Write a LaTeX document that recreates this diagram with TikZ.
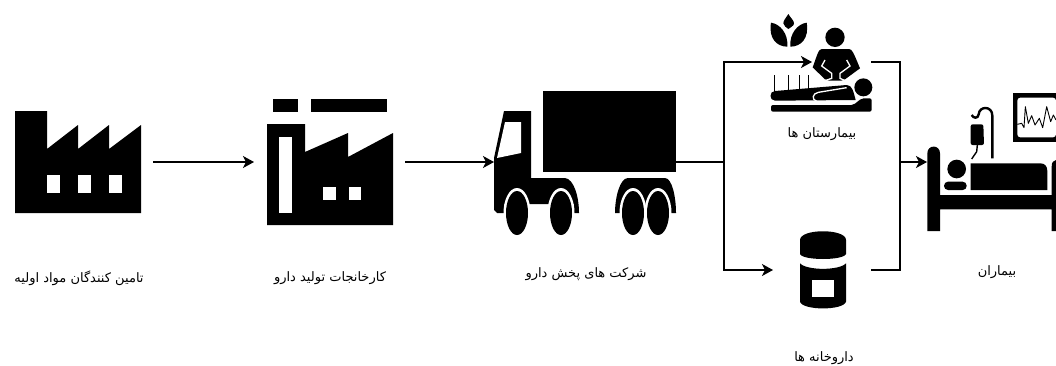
\documentclass[tikz,border=0pt]{standalone}
\usepackage{fontspec}
\usetikzlibrary{arrows.meta}
\TeXXeTstate=1
\newfontfamily\arabicfont[Script=Arabic]{DejaVu Sans}
\newcommand{\farsi}[1]{{\arabicfont\beginR #1\endR}}
\tikzset{
    iconbox/.style={inner sep=0pt, outer sep=0pt},
    caption/.style={inner sep=0pt, yshift=-1.5pt, font=\fontsize{13}{15}\selectfont},
    flow/.style={-{Stealth[length=11pt,width=12pt,inset=3pt]}, line width=1.2pt},
    plainline/.style={line width=1.2pt}
}
\begin{document}
\begin{tikzpicture}[x=1pt, y=-1pt]
    \useasboundingbox (0,0) rectangle (1056,365);

    % Raw material factory
    \fill (15,111) -- (47,111) -- (47,149) -- (78,125) -- (78,149) -- (109,125) -- (109,149) -- (141,125) -- (141,213) -- (15,213) -- cycle;
    \foreach \wx in {47,78,109} {
        \fill[white] (\wx,175) rectangle ++(13,18);
    }
    \node[iconbox, minimum width=126pt, minimum height=102pt] (supplier) at (78,162) {};
    \node[caption] (suppliertext) at (79,277) {\farsi{تامین کنندگان مواد اولیه}};

    % Drug plant
    \fill (273,99) rectangle (298,112);
    \fill (311,99) rectangle (387,112);
    \fill (267,124) -- (305,124) -- (305,152) -- (348,133) -- (348,157) -- (393,133) -- (393,225) -- (267,225) -- cycle;
    \fill[white] (279,137) rectangle (292,213);
    \fill[white] (323,187) rectangle (336,200);
    \fill[white] (349,187) rectangle (361,200);
    \node[iconbox, minimum width=126pt, minimum height=126pt] (plant) at (330,162) {};
    \node[caption] (planttext) at (330,277) {\farsi{کارخانجات تولید دارو}};

    % Truck
    \fill (543,91) rectangle (676,172);
    \fill (504,111) -- (531,111) -- (531,178) -- (565,178) .. controls (574,179) and (579,197) .. (579,213) -- (574,213) -- (574,204) -- (504,204) -- (504,213) -- (497,213) -- (494,210) -- (494,158) -- cycle;
    \fill (615,213) .. controls (615,197) and (620,178) .. (628,178) -- (665,178) .. controls (672,178) and (676,197) .. (676,213) -- cycle;
    \fill[white] (505,122) -- (521,122) -- (521,153) -- (497,158) -- cycle;
    \foreach \wx in {517,561,633,658} {
        \fill[white] (\wx,213) ellipse [x radius=13.5, y radius=25];
    }
    \foreach \wx in {517,561,633,658} {
        \fill (\wx,213) ellipse [x radius=11, y radius=22];
    }
    \node[iconbox, minimum width=182pt, minimum height=144pt] (truck) at (585,162) {};
    \node[caption] (trucktext) at (586,273) {\farsi{شرکت های پخش دارو}};

    % Hospital
    \begin{scope}[shift={(765,10)}, scale=1/3]
        \fill (70,12) .. controls (62,25) and (55,32) .. (55,40) .. controls (55,48) and (65,52) .. (70,57) .. controls (76,52) and (87,48) .. (87,40) .. controls (87,32) and (78,25) .. (70,12) -- cycle;
        \fill (18,38) .. controls (45,42) and (70,70) .. (67,110) .. controls (35,110) and (10,85) .. (18,38) -- cycle;
        \fill (125,38) .. controls (98,42) and (73,70) .. (76,110) .. controls (108,110) and (133,85) .. (125,38) -- cycle;
        \fill (210,82) circle [radius=29];
        \fill (170,117) -- (252,117) .. controls (262,117) and (266,130) .. (285,175) -- (240,208) -- (228,212) -- (192,212) -- (180,208) -- (143,172) .. controls (155,140) and (160,117) .. (170,117) -- cycle;
        \draw[white, line width=1.3pt] (180,150) -- (170,168) -- (200,190) -- (200,205) -- (180,212);
        \draw[white, line width=1.3pt] (245,150) -- (255,168) -- (225,190) -- (225,205) -- (240,212);
        \foreach \nx in {28,70,103,130} {
            \draw[line width=1.2pt] (\nx,195) -- (\nx,245);
        }
        \fill (30,243) -- (245,225) .. controls (262,225) and (265,245) .. (272,270) -- (30,272) .. controls (12,272) and (12,243) .. (30,243) -- cycle;
        \draw[white, line width=1.3pt] (245,233) -- (160,247) .. controls (143,250) and (138,268) .. (155,274);
        \fill (295,232) circle [radius=27];
        \fill[rounded corners=2pt] (18,285) -- (265,285) -- (290,265) -- (320,265) -- (320,305) -- (18,305) -- cycle;
    \end{scope}
    \node[iconbox, minimum width=102pt, minimum height=98pt] (hospital) at (820,62) {};
    \coordinate (hospitalin) at (812,62);
    \node[caption] (hospitaltext) at (822,133) {\farsi{بیمارستان ها}};

    % Pharmacy
    \begin{scope}[shift={(720,0)}, scale=1/3]
        \fill (240,720) .. controls (240,685) and (378,685) .. (378,720) -- (378,762) .. controls (370,782) and (248,782) .. (240,762) -- cycle;
        \fill (240,790) .. controls (260,812) and (358,812) .. (378,790) -- (378,905) .. controls (370,932) and (248,932) .. (240,905) -- cycle;
        \fill[white] (277,840) rectangle (342,892);
    \end{scope}
    \node[iconbox, minimum width=46pt, minimum height=76pt] (pharmacy) at (823,270) {};
    \node[caption] (pharmacytext) at (824,357) {\farsi{داروخانه ها}};

    % Patient bed
    \begin{scope}[shift={(920,85)}, scale=1/3]
        \fill (22,438) -- (22,205) .. controls (22,178) and (60,178) .. (60,205) -- (60,330) -- (395,330) -- (395,245) .. controls (395,232) and (400,226) .. (408,225) -- (408,438) -- (395,438) -- (395,373) -- (60,373) -- (60,438) -- cycle;
        \fill (110,252) circle [radius=28];
        \fill[rounded corners=4pt] (72,290) rectangle (140,315);
        \fill (152,235) -- (362,235) .. controls (375,235) and (382,245) .. (382,258) -- (382,315) -- (152,315) -- cycle;
        \fill (278,25) rectangle (408,170);
        \fill[white, rounded corners=3pt] (292,38) -- (408,38) -- (408,157) -- (292,157) -- cycle;
        \draw[line width=0.9pt, line join=round] (292,118) -- (305,115) -- (312,128) -- (316,65) -- (325,115) -- (335,92) -- (345,120) -- (358,100) -- (368,128) -- (380,65) -- (392,110) -- (400,90) -- (408,105);
        \fill[rounded corners=2pt] (152,118) -- (190,118) -- (192,180) -- (152,180) -- cycle;
        \draw[line width=1.4pt] (172,180) -- (170,200) -- (155,222);
        \draw[line width=2.4pt] (217,220) -- (217,92) .. controls (217,62) and (178,62) .. (176,88) .. controls (174,102) and (160,100) .. (155,90);
    \end{scope}
    \node[iconbox, minimum width=129pt, minimum height=137pt] (bed) at (991.5,162) {};
    \node[caption] (bedtext) at (997,271) {\farsi{بیماران}};

    % Connectors
    \coordinate (split) at (724,162);
    \coordinate (merge) at (900,162);
    \draw[flow, shorten <=12pt, shorten >=13pt] (supplier) -- (plant);
    \draw[flow, shorten <=12pt] (plant) -- (truck);
    \draw[line width=1.8pt] (truck) -- (split);
    \draw[flow] (split) |- (hospitalin);
    \draw[flow, shorten >=27pt] (split) |- (pharmacy);
    \draw[plainline] (hospital.east) -| (merge);
    \draw[plainline, shorten <=25pt] (pharmacy) -| (merge);
    \draw[flow] (merge) -- (bed);
\end{tikzpicture}
\end{document}
